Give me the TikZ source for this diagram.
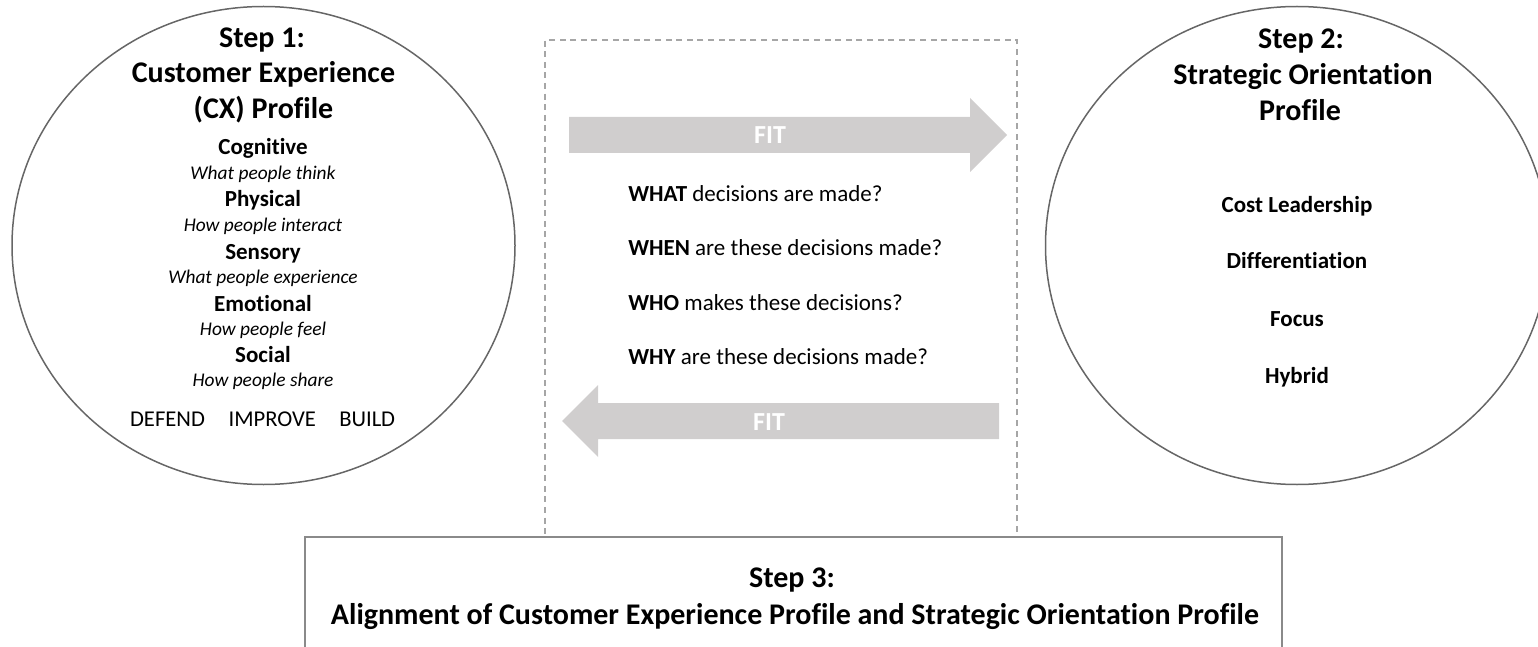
\documentclass[tikz,border=0pt]{standalone}
\usepackage{fontspec}
\setmainfont{Carlito}[Ligatures={NoCommon}]
\usetikzlibrary{shapes.geometric}
\definecolor{ringgray}{HTML}{666666}
\definecolor{dashgray}{HTML}{A6A6A6}
\definecolor{fitgray}{HTML}{D0CECE}
\definecolor{framegray}{HTML}{8A8A8A}

\begin{document}
\begin{tikzpicture}[x=0.5pt,y=-0.5pt,
  every node/.style={inner sep=0pt, outer sep=0pt},
  ring/.style={ellipse, draw=ringgray, line width=0.75pt, fill=white,
    minimum width=251.5pt, minimum height=239pt},
  zone/.style={draw=dashgray, line width=0.65pt, dash pattern=on 3pt off 2.3pt,
    anchor=north west, minimum width=236pt, minimum height=248.5pt},
  stepbox/.style={draw=framegray, line width=1pt, fill=white,
    anchor=north west, minimum width=488.5pt, minimum height=70pt},
  title/.style={font=\fontsize{15}{18}\selectfont\bfseries, anchor=base},
  item/.style={font=\fontsize{11.5}{14}\selectfont\bfseries, anchor=base},
  hint/.style={font=\fontsize{9.7}{12}\selectfont\itshape, anchor=base},
  action/.style={font=\fontsize{11.3}{14}\selectfont, anchor=base},
  question/.style={font=\fontsize{11.5}{14}\selectfont, anchor=base west},
  fitarrow/.style={fill=fitgray},
  fitlabel/.style={font=\fontsize{13}{16}\selectfont\bfseries, text=white, anchor=base},
]
\useasboundingbox (0,0) rectangle (1538,647);
\clip (0,0) rectangle (1538,647);

% central zone with the two FIT arrows
\node[zone] (zone) at (545,40) {};

% step 3 frame, running off the lower edge
\node[stepbox] (s3) at (305,537) {};

% the two profile rings
\node[ring] (s1) at (263.5,245.5) {};
\node[ring] (s2) at (1297,245.5) {};

% FIT arrow pointing right
\fill[fitarrow] (569,117) -- (970,117) -- (970,98) -- (1007,135)
  -- (970,172) -- (970,153) -- (569,153) -- cycle;
\node[fitlabel] (fitr) at (770,143.4) {FIT};

% FIT arrow pointing left
\fill[fitarrow] (999,403) -- (598,403) -- (598,385) -- (562,421)
  -- (598,457) -- (598,439) -- (999,439) -- cycle;
\node[fitlabel] (fitl) at (769,430) {FIT};

% Step 1 ring contents
\node[title] (t1a) at (262,47.3) {Step 1:};
\node[title] (t1b) at (263.5,82.7) {Customer Experience};
\node[title] (t1c) at (263.5,118.3) {(CX) Profile};
\node[item] (cog) at (263,155) {Cognitive};
\node[hint] (cogh) at (263,180) {What people think};
\node[item] (phy) at (263,206.7) {Physical};
\node[hint] (phyh) at (263,231.7) {How people interact};
\node[item] (sen) at (263,259.3) {Sensory};
\node[hint] (senh) at (263,283.3) {What people experience};
\node[item] (emo) at (263,311) {Emotional};
\node[hint] (emoh) at (263,335) {How people feel};
\node[item] (soc) at (263,362.7) {Social};
\node[hint] (soch) at (263,386.7) {How people share};
\node[action] (def) at (167.5,426.7) {DEFEND};
\node[action] (imp) at (272.2,426.7) {IMPROVE};
\node[action] (bld) at (367.2,426.7) {BUILD};

% decision questions
\node[question] (qwhat) at (628.3,202) {\textbf{WHAT} decisions are made?};
\node[question] (qwhen) at (628.3,256) {\textbf{WHEN} are these decisions made?};
\node[question] (qwho) at (628.3,310) {\textbf{WHO} makes these decisions?};
\node[question] (qwhy) at (628.3,364) {\textbf{WHY} are these decisions made?};

% Step 2 ring contents
\node[title] (t2a) at (1301,48.4) {Step 2:};
\node[title] (t2b) at (1303,84.4) {Strategic Orientation};
\node[title] (t2c) at (1300,120.8) {Profile};
\node[item] (cost) at (1297,213) {Cost Leadership};
\node[item] (diff) at (1297,269) {Differentiation};
\node[item] (foc) at (1297,326) {Focus};
\node[item] (hyb) at (1297,383) {Hybrid};

% Step 3 text
\node[title] (t3a) at (792,587.5) {Step 3:};
\node[title] (t3b) at (795,624.3) {Alignment of Customer Experience Profile and Strategic Orientation Profile};
\end{tikzpicture}
\end{document}
